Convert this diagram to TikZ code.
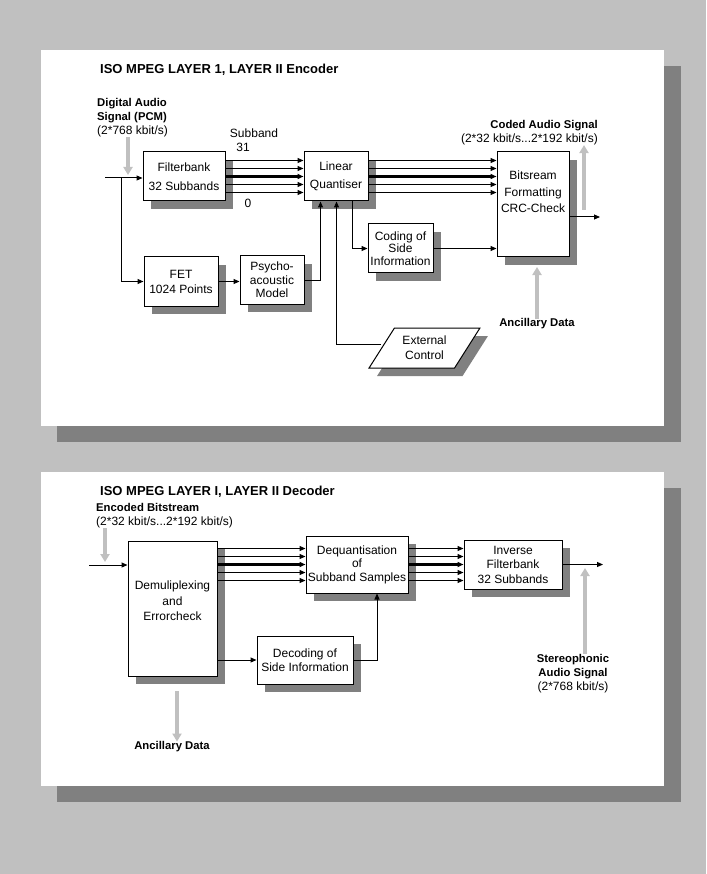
\documentclass[tikz,border=0pt]{standalone}
\usepackage{fontspec}
\setmainfont{Liberation Sans}
\usetikzlibrary{arrows.meta, shapes.geometric, shadows}
\definecolor{pagegray}{HTML}{C0C0C0}
\definecolor{shadegray}{HTML}{808080}
\definecolor{feedgray}{HTML}{C0C0C0}
\newcommand{\heavy}[1]{{\fontsize{11.3}{14}\selectfont\bfseries #1}}
\tikzstyle{blk}=[rectangle,draw,line width=1pt,fill=white,inner sep=0pt,
  align=center,font=\fontsize{12}{14.5}\selectfont,
  drop shadow={shadow xshift=8pt,shadow yshift=-8pt,fill=shadegray,opacity=1}]
\tikzstyle{arr}=[-{Triangle[length=6pt,width=5pt]},line width=1pt]
\tikzstyle{bus}=[arr,line width=3pt]
\tikzstyle{feed}=[-{Triangle[length=8pt,width=9pt]},line width=4.5pt,color=feedgray]
\tikzstyle{lbl}=[inner sep=0pt,font=\fontsize{12}{14}\selectfont]
\tikzstyle{hd}=[inner sep=0pt,font=\fontsize{13}{15}\selectfont\bfseries]

\begin{document}
\begin{tikzpicture}[x=1pt,y=-1pt]
  \useasboundingbox (0,0) rectangle (706,874);
  % backdrop and the two panels
  \fill[pagegray] (0,0) rectangle (706,874);
  \fill[shadegray] (57,66) rectangle (681,442);
  \fill[white] (41,50) rectangle (664,426);
  \fill[shadegray] (57,488) rectangle (681,802);
  \fill[white] (41,472) rectangle (664,786);

  % encoder
  \node[hd,anchor=west] (enctitle) at (100,70) {ISO MPEG LAYER 1, LAYER II Encoder};
  \node[lbl,align=left,anchor=north west] (pcmlbl) at (97,98)
    {\heavy{Digital Audio}\\\heavy{Signal (PCM)}\\(2*768 kbit/s)};
  \node[lbl] (sbtop) at (254,133) {Subband};
  \node[lbl] (sb31) at (243,147) {31};
  \node[lbl] (sb0) at (248,203) {0};
  \node[lbl,align=right,anchor=north east] (codedlbl) at (598,120)
    {\heavy{Coded Audio Signal}\\(2*32 kbit/s...2*192 kbit/s)};
  \node[lbl] (anc1) at (537,324) {\heavy{Ancillary Data}};

  \node[blk,minimum width=82pt,minimum height=49pt,font=\fontsize{12}{19}\selectfont]
    (fb) at (184,176.5) {Filterbank\\32 Subbands};
  \node[blk,minimum width=64pt,minimum height=49pt,font=\fontsize{12}{18}\selectfont]
    (lq) at (336,176.5) {Linear\\Quantiser};
  \node[blk,minimum width=72pt,minimum height=105pt,font=\fontsize{12}{16.5}\selectfont,
    text depth=25pt] (bs) at (533,204.5) {Bitsream\\Formatting\\CRC-Check};
  \node[blk,minimum width=65pt,minimum height=49pt,font=\fontsize{12}{12.5}\selectfont]
    (cside) at (400.5,248.5) {Coding of\\Side\\Information};
  \node[blk,minimum width=74pt,minimum height=49pt,font=\fontsize{12}{15}\selectfont]
    (fet) at (181,281.5) {FET\\1024 Points};
  \node[blk,minimum width=64pt,minimum height=48pt,font=\fontsize{12}{13.5}\selectfont]
    (psy) at (272,280) {Psycho-\\acoustic\\Model};
  \node[blk,trapezium,trapezium left angle=52,trapezium right angle=128,
    trapezium stretches=true,minimum width=111pt,minimum height=40pt,
    font=\fontsize{12}{15}\selectfont] (extc) at (424.5,348) {External\\Control};

  \coordinate (pcmin) at (105,178);
  \coordinate (split) at (121,178);
  \coordinate (lqb1) at ([xshift=17pt]lq.south west);
  \coordinate (lqb2) at ([xshift=33pt]lq.south west);
  \coordinate (lqb3) at ([xshift=49pt]lq.south west);
  \coordinate (codedout) at (600,217);
  \draw[arr] (pcmin) -- (pcmin -| fb.west);
  \draw[arr] (split) |- (fet.west);
  \draw[arr] (fet.east) -- (fet.east -| psy.west);
  \draw[arr] (psy.east) -| (lqb1);
  \draw[arr] ([yshift=4pt]extc.west) -| (lqb2);
  \draw[arr] (lqb3) |- (cside.west);
  \draw[arr] (cside.east) -- (cside.east -| bs.west);
  \foreach \o in {-16,-8,8,16} {
    \draw[arr] ([yshift=\o pt]fb.east) -- ([yshift=\o pt]fb.east -| lq.west);
    \draw[arr] ([yshift=\o pt]lq.east) -- ([yshift=\o pt]lq.east -| bs.west);
  }
  \draw[bus] (fb.east) -- (fb.east -| lq.west);
  \draw[bus] (lq.east) -- (lq.east -| bs.west);
  \draw[arr] (bs.east |- codedout) -- (codedout);

  \coordinate (pcmdrop) at (128,175);
  \coordinate (codedrise) at (584,210);
  \coordinate (ancrise) at (537,267);
  \draw[feed] (pcmlbl.south -| pcmdrop) -- (pcmdrop);
  \draw[feed] (codedrise) -- (codedrise |- codedlbl.south);
  \draw[feed] (anc1.north) -- (ancrise);

  % decoder
  \node[hd,anchor=west] (dectitle) at (100,492) {ISO MPEG LAYER I, LAYER II Decoder};
  \node[lbl,align=left,anchor=north west] (bitlbl) at (96,503)
    {\heavy{Encoded Bitstream}\\(2*32 kbit/s...2*192 kbit/s)};
  \node[lbl,align=center,anchor=north] (stlbl) at (573,654)
    {\heavy{Stereophonic}\\\heavy{Audio Signal}\\(2*768 kbit/s)};
  \node[lbl] (anc2) at (172,747) {\heavy{Ancillary Data}};

  \node[blk,minimum width=89pt,minimum height=135pt,font=\fontsize{12}{15.5}\selectfont,
    text depth=15pt] (demux) at (172.5,608.5) {Demuliplexing\\and\\Errorcheck};
  \node[blk,minimum width=102pt,minimum height=57pt,font=\fontsize{12}{13.5}\selectfont]
    (deq) at (357,564.5) {Dequantisation\\of\\Subband Samples};
  \node[blk,minimum width=98pt,minimum height=49pt,font=\fontsize{12}{14.5}\selectfont]
    (inv) at (513,564.5) {Inverse\\Filterbank\\32 Subbands};
  \node[blk,minimum width=96pt,minimum height=48pt,font=\fontsize{12}{14}\selectfont]
    (dec) at (305,660) {Decoding of\\Side Information};

  \coordinate (bitin) at (89,565);
  \coordinate (deqb) at ([xshift=20pt]deq.south);
  \coordinate (stout) at (603,565);
  \draw[arr] (bitin) -- (bitin -| demux.west);
  \foreach \o in {-16,-8,8,16} {
    \draw[arr] ([yshift=\o pt]deq.west -| demux.east) -- ([yshift=\o pt]deq.west);
    \draw[arr] ([yshift=\o pt]deq.east) -- ([yshift=\o pt]deq.east -| inv.west);
  }
  \draw[bus] (deq.west -| demux.east) -- (deq.west);
  \draw[bus] (deq.east) -- (deq.east -| inv.west);
  \draw[arr] (dec.west -| demux.east) -- (dec.west);
  \draw[arr] (dec.east) -| (deqb);
  \draw[arr] (inv.east) -- (inv.east -| stout);

  \coordinate (bitdrop) at (105,562);
  \coordinate (strise) at (585,568);
  \coordinate (ancdrop) at (177,691);
  \draw[feed] (bitlbl.south -| bitdrop) -- (bitdrop);
  \draw[feed] (stlbl.north -| strise) -- (strise);
  \draw[feed] (ancdrop) -- (ancdrop |- anc2.north);
\end{tikzpicture}
\end{document}
